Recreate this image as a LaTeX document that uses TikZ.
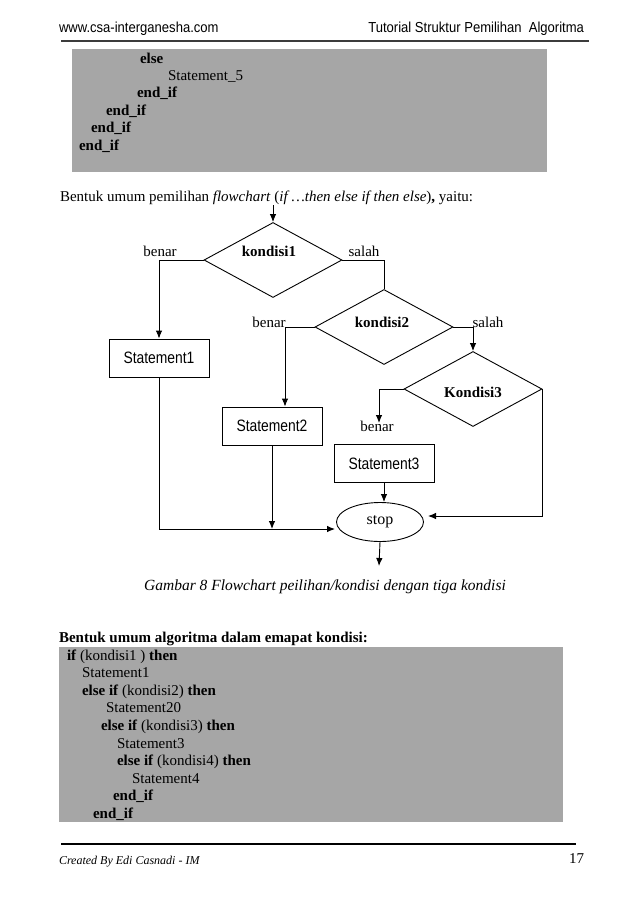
\documentclass[tikz,border=0pt]{standalone}
\usepackage{fontspec}
\setmainfont{Liberation Serif}
\newfontfamily\hdrfont[FakeStretch=0.9]{Liberation Sans}
\newfontfamily\stmfont[FakeStretch=0.84]{Liberation Sans}
\usetikzlibrary{shapes.geometric,arrows.meta}
\definecolor{codegray}{RGB}{166,166,166}
\definecolor{hdrline}{RGB}{60,60,60}
\begin{document}
\begin{tikzpicture}[x=1pt,y=-1pt,
  hdr/.style={inner sep=0pt,outer sep=0pt,font=\hdrfont\fontsize{14.5}{16}\selectfont},
  codeline/.style={inner sep=0pt,outer sep=0pt,anchor=base west,font=\fontsize{15}{17}\selectfont},
  lbl/.style={inner sep=0pt,outer sep=0pt,anchor=base,font=\fontsize{15}{17}\selectfont},
  decision/.style={draw,line width=0.9pt,diamond,inner sep=0pt,minimum width=138pt,minimum height=75pt},
  stmbox/.style={draw,line width=0.9pt,rectangle,inner sep=0pt,minimum width=100pt,minimum height=38pt,font=\stmfont\fontsize{16.5}{18}\selectfont},
  endbox/.style={draw,line width=0.9pt,ellipse,inner sep=0pt,minimum width=87pt,minimum height=39pt,font=\fontsize{16}{18}\selectfont},
  arr/.style={line width=0.9pt,-{Latex[length=8pt,width=6.5pt]}},
  conn/.style={line width=0.9pt}
]
\useasboundingbox (0,0) rectangle (638,903);
\fill[white] (0,0) rectangle (638,903);

% header
\node[hdr,anchor=base west] (h1) at (59,32) {www.csa-interganesha.com};
\node[hdr,anchor=base east] (h2) at (584,32) {Tutorial Struktur Pemilihan\ \ Algoritma};
\draw[hdrline,line width=1.5pt] (61,41) -- (589,41);

% first code box
\fill[codegray] (72,49) rectangle (547,172);
\node[codeline] (c1) at (140,63) {\textbf{else}};
\node[codeline] (c2) at (168,80.4) {Statement\_5};
\node[codeline] (c3) at (137,97.8) {\textbf{end\_if}};
\node[codeline] (c4) at (106,115.2) {\textbf{end\_if}};
\node[codeline] (c5) at (91,132.6) {\textbf{end\_if}};
\node[codeline] (c6) at (79,150) {\textbf{end\_if}};

% intro sentence
\node[codeline] (intro) at (60,201) {Bentuk umum pemilihan \textit{flowchart} (\textit{if \ldots then else if then else})\textbf{,} yaitu:};

% flowchart
\coordinate (start) at (273,205);
\node[decision] (D1) at (273,260) {};
\node[decision] (D2) at (384,327) {};
\node[decision] (D3) at (473,389) {};
\node[stmbox] (S1) at (159,358) {Statement1};
\node[stmbox] (S2) at (272,426) {Statement2};
\node[stmbox] (S3) at (384,463.5) {Statement3};
\node[endbox] (stop) at (380,522) {stop};

\node[lbl] (k1) at (269,256) {\textbf{kondisi1}};
\node[lbl] (b1) at (160,256) {benar};
\node[lbl] (s1) at (364,256) {salah};
\node[lbl] (k2) at (382,327) {\textbf{kondisi2}};
\node[lbl] (b2) at (269,327) {benar};
\node[lbl] (s2) at (488,327) {salah};
\node[lbl] (k3) at (473,397) {\textbf{Kondisi3}};
\node[lbl] (b3) at (377,431) {benar};

\coordinate (t3) at (379,423);
\coordinate (r3) at (428,516);
\coordinate (l1) at (335,529);
\coordinate (out) at (379,566);

\draw[arr] (start) -- (D1.north);
\draw[arr] (D1.west) -| (S1.north);
\draw[conn] (D1.east) -| (D2.north);
\draw[arr] (D2.west) -| ([xshift=13pt]S2.north);
\draw[arr] (D2.east) -| (D3.north);
\draw[arr] (D3.west) -| (t3);
\draw[arr] (S3.south) -- (S3.south |- stop.north);
\draw[arr] (D3.east) |- (r3);
\draw[arr] (S1.south) |- (l1);
\draw[arr] (S2.south) -- (S2.south |- l1);
\draw[arr] (stop.south) -- (out);

% caption
\node[lbl,font=\itshape\fontsize{15.5}{17}\selectfont] (cap) at (325,590) {Gambar 8 Flowchart peilihan/kondisi dengan tiga kondisi};

% second heading
\node[codeline] (head2) at (59,642) {\textbf{Bentuk umum algoritma dalam emapat kondisi:}};

% second code box
\fill[codegray] (59,647) rectangle (563,822);
\node[codeline] (d1) at (67,660) {\textbf{if} (kondisi1 ) \textbf{then}};
\node[codeline] (d2) at (82,677.6) {Statement1};
\node[codeline] (d3) at (82,695.2) {\textbf{else if} (kondisi2) \textbf{then}};
\node[codeline] (d4) at (106,712.8) {Statement20};
\node[codeline] (d5) at (101,730.4) {\textbf{else if} (kondisi3) \textbf{then}};
\node[codeline] (d6) at (117,748) {Statement3};
\node[codeline] (d7) at (117,765.6) {\textbf{else if} (kondisi4) \textbf{then}};
\node[codeline] (d8) at (132,783.2) {Statement4};
\node[codeline] (d9) at (113,800.8) {\textbf{end\_if}};
\node[codeline] (d10) at (93,818.4) {\textbf{end\_if}};

% footer
\draw[line width=1.2pt] (61,844) -- (576,844);
\node[codeline,font=\itshape\fontsize{12}{14}\selectfont] (f1) at (59,864) {Created By Edi Casnadi - IM};
\node[codeline,anchor=base east] (f2) at (584,863) {17};
\end{tikzpicture}
\end{document}
